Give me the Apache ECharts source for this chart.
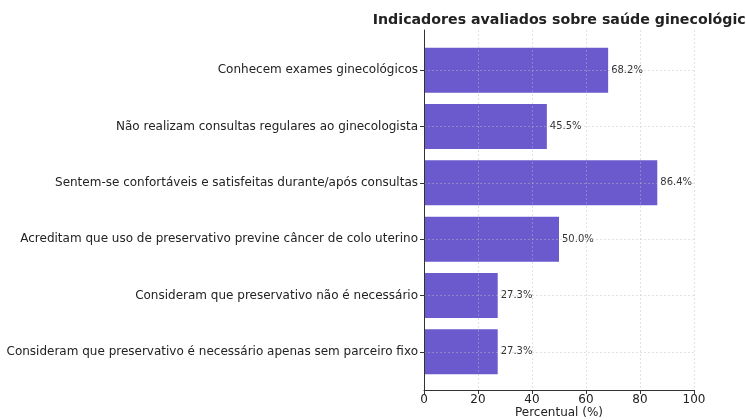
<!DOCTYPE html>
<html><head><meta charset="utf-8">
<script src="https://cdn.jsdelivr.net/npm/echarts@6/dist/echarts.min.js"></script>
<style>html,body{margin:0;padding:0;background:#fff}#c{width:746px;height:420px}</style>
</head><body><div id="c"></div>
<script>
const categories = [
  'Conhecem exames ginecológicos',
  'Não realizam consultas regulares ao ginecologista',
  'Sentem-se confortáveis e satisfeitas durante/após consultas',
  'Acreditam que uso de preservativo previne câncer de colo uterino',
  'Consideram que preservativo não é necessário',
  'Consideram que preservativo é necessário apenas sem parceiro fixo'
];
const values = [68.2, 45.5, 86.4, 50.0, 27.3, 27.3];
const xTicks = [0, 20, 40, 60, 80, 100];
const titleText = 'Indicadores avaliados sobre saúde ginecológica';
const xName = 'Percentual (%)';

const font = 'DejaVu Sans';
const gridColor = 'rgba(190,190,190,0.55)';
const chart = echarts.init(document.getElementById('c'), null, {renderer: 'canvas'});
chart.setOption({
  animation: false,
  backgroundColor: '#fff',
  title: {
    text: titleText, left: 559, top: 8, textAlign: 'center',
    textStyle: {fontFamily: font, fontSize: 14.2, fontWeight: 'bold', color: '#222'}
  },
  grid: [
    {left: 424, right: 52, top: 42, bottom: 40, outerBoundsMode: 'none', containLabel: false},
    {left: 424, right: 52, top: 30, bottom: 30, outerBoundsMode: 'none', containLabel: false}
  ],
  xAxis: [
    {gridIndex: 0, type: 'value', min: 0, max: 100, interval: 20, show: false},
    {gridIndex: 1, type: 'value', min: 0, max: 100, interval: 20, z: 5,
     name: xName, nameLocation: 'middle', nameGap: 17, nameMoveOverlap: false,
     nameTextStyle: {fontFamily: font, fontSize: 12, color: '#222'},
     axisLine: {show: true, onZero: false, lineStyle: {color: '#333', width: 1}},
     axisTick: {show: true, length: 4, lineStyle: {color: '#333'}},
     axisLabel: {fontFamily: font, fontSize: 12, color: '#222', margin: 4,
       formatter: v => xTicks.includes(v) ? String(v) : ''},
     splitLine: {show: true, showMinLine: false, lineStyle: {color: gridColor, type: [2, 2], width: 0.8}}}
  ],
  yAxis: [
    {gridIndex: 0, type: 'category', data: categories, inverse: true, z: 5,
     axisLine: {show: false},
     axisTick: {show: true, alignWithLabel: true, length: 4, lineStyle: {color: '#333'}},
     axisLabel: {fontFamily: font, fontSize: 12, color: '#222', margin: 6},
     splitLine: {show: true, alignWithLabel: true, lineStyle: {color: gridColor, type: [2, 2], width: 0.8}}},
    {gridIndex: 1, type: 'value', min: 0, max: 1, show: true, z: 6,
     axisLine: {show: true, lineStyle: {color: '#333', width: 1}},
     axisTick: {show: false}, axisLabel: {show: false}, splitLine: {show: false}}
  ],
  series: [{
    type: 'bar', xAxisIndex: 0, yAxisIndex: 0, data: values,
    barWidth: '80%',
    itemStyle: {color: '#6a5acd'},
    label: {show: true, position: 'right', distance: 3,
      fontFamily: font, fontSize: 10, color: '#333',
      formatter: p => p.value.toFixed(1) + '%'}
  }]
});
</script></body></html>
